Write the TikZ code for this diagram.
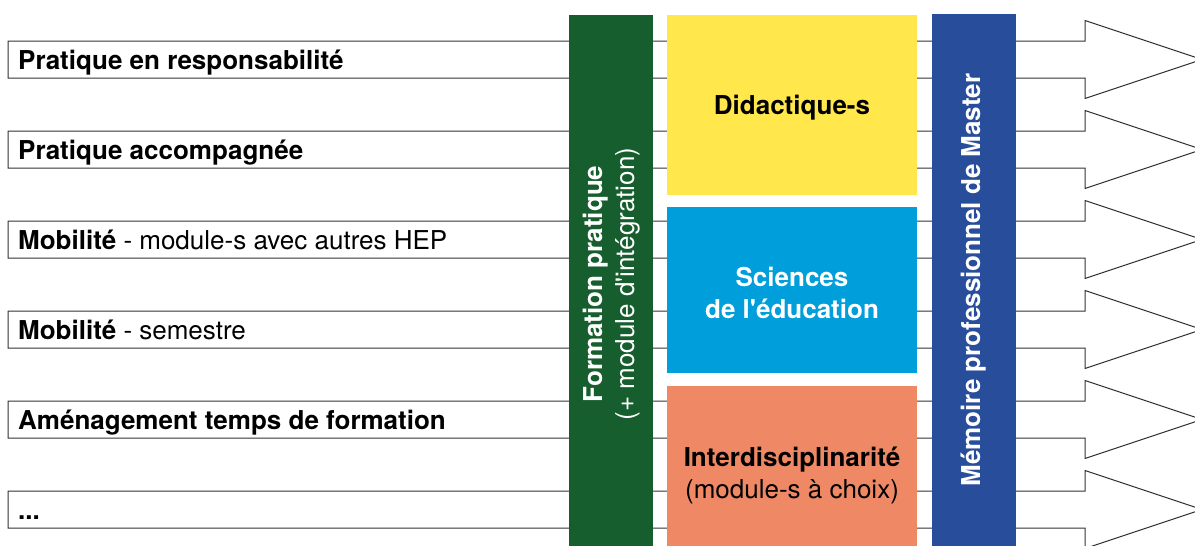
\documentclass[tikz,border=0pt]{standalone}
\usepackage{fontspec}
\setmainfont{TeX Gyre Heros}[Ligatures=TeXOff]
\definecolor{cgreen}{RGB}{23,94,46}
\definecolor{cyellow}{RGB}{255,231,76}
\definecolor{clblue}{RGB}{0,158,219}
\definecolor{csalmon}{RGB}{239,136,100}
\definecolor{cblue}{RGB}{39,77,155}
\tikzset{
  bigarrow/.style={draw=black!80, line width=1pt, fill=white, line join=miter},
  lab/.style={font=\fontsize{26}{31}\selectfont, inner sep=0pt, anchor=base west, text=black},
  boxtext/.style={font=\fontsize{26}{32}\selectfont, inner sep=0pt, align=center},
}
\begin{document}
\begin{tikzpicture}[x=1pt,y=-1pt]
\useasboundingbox (0,0) rectangle (1195,546);
\clip (0,0) rectangle (1195,546);
% block arrows
\foreach \i in {0,...,5}{
  \pgfmathsetmacro\T{41+90*\i}
  \pgfmathsetmacro\B{\T+37}
  \pgfmathsetmacro\M{\T+18.5}
  \draw[bigarrow] (8,\T) -- (1085,\T) -- (1085,\T-20.5) -- (1202,\M) -- (1085,\B+20.5) -- (1085,\B) -- (8,\B) -- cycle;
}
% left labels
\node[lab] (t0) at (18,69) {\textbf{Pratique en responsabilité}};
\node[lab] (t1) at (18,159) {\textbf{Pratique accompagnée}};
\node[lab] (t2) at (18,249) {\textbf{Mobilité} - module-s avec autres HEP};
\node[lab] (t3) at (18,339) {\textbf{Mobilité} - semestre};
\node[lab] (t4) at (18,429) {\textbf{Aménagement temps de formation}};
\node[lab] (t5) at (18,519) {\textbf{...}};
% bars and boxes
\fill[cgreen] (569,15) rectangle (653,546);
\fill[cyellow] (667,15) rectangle (917,195);
\fill[clblue] (667,207) rectangle (917,373);
\fill[csalmon] (667,386) rectangle (917,546);
\fill[cblue] (932,14) rectangle (1016,546);
% texts
\node[boxtext, text=white, rotate=90] (fp) at (612,284) {\textbf{Formation pratique}\\(+ module d'intégration)};
\node[boxtext, text=black, anchor=base] (did) at (792,114) {\textbf{Didactique-s}};
\node[boxtext, text=white] (sci) at (792,293) {\textbf{Sciences}\\\textbf{de l'éducation}};
\node[boxtext, text=black] (inter) at (792,475) {\textbf{Interdisciplinarité}\\(module-s à choix)};
\node[boxtext, text=white, rotate=90] (mem) at (974,280) {\textbf{Mémoire professionnel de Master}};
\end{tikzpicture}
\end{document}
